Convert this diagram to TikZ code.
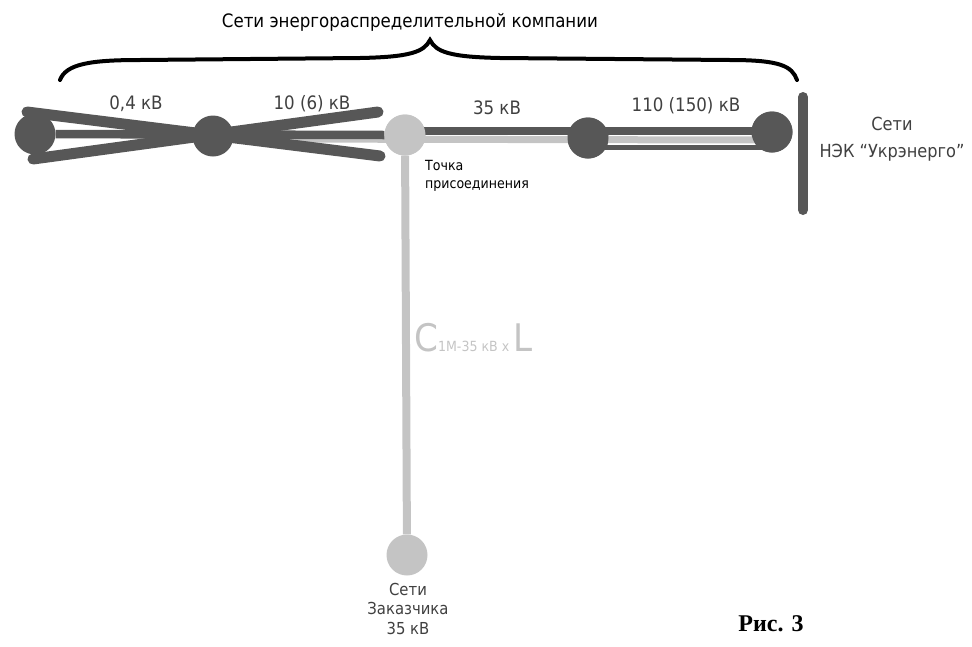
\documentclass[tikz,border=0pt]{standalone}
\usepackage{fontspec}
\setmainfont{DejaVu Sans Condensed}
\newfontfamily\serifbold{Liberation Serif}
\definecolor{darkg}{HTML}{575757}
\definecolor{lightg}{HTML}{C4C4C4}
\definecolor{txtg}{HTML}{404040}
\begin{document}
\begin{tikzpicture}[x=1pt,y=-1pt,
  dnode/.style={circle,fill=darkg,minimum size=41pt,inner sep=0pt},
  lnode/.style={circle,fill=lightg,minimum size=41pt,inner sep=0pt},
  vlabel/.style={text=txtg,font=\fontsize{18.5}{20}\selectfont,inner sep=0pt},
  darkline/.style={draw=darkg,line width=8.5pt},
  lightline/.style={draw=lightg,line width=7pt},
  crossline/.style={draw=darkg,line width=11pt,line cap=round}]
\useasboundingbox (0,0) rectangle (972,646);
% nodes
\node[dnode] (n1) at (35,134) {};
\node[dnode] (n2) at (213,136) {};
\node[lnode] (tp) at (405,135) {};
\node[dnode] (n4) at (588,138) {};
\node[dnode] (n5) at (772,132) {};
\node[lnode] (cust) at (407,555) {};
\coordinate (lstart) at (250,139);
\coordinate (lend) at (770,140);
\coordinate (d2s) at (590,147.5);
\coordinate (d2e) at (770,147.5);
\coordinate (ds) at (400,131);
\coordinate (de) at (770,131);
% connectors
\draw[lightline,line width=8pt] (tp) -- (cust);
\draw[lightline] (lstart) -- (lend);
\draw[darkg,line width=5pt] (d2s) -- (d2e);
\draw[darkline] (n1) -- (tp.west);
\draw[darkline] (ds) -- (de);
\node[lnode] at (tp) {};
\node[dnode] at (n4) {};
\node[dnode] at (n5) {};
% cross
\coordinate (c1) at (27,112);
\coordinate (c2) at (380,156);
\coordinate (c3) at (33,159);
\coordinate (c4) at (378,112);
\draw[crossline] (c1) -- (c2);
\draw[crossline] (c3) -- (c4);
% right bar
\coordinate (b1) at (803,97);
\coordinate (b2) at (803,210);
\draw[darkg,line width=10pt,line cap=round] (b1) -- (b2);
% brace
\draw[black,line width=4pt,line cap=round]
  (60,80) .. controls (66,64) and (90,60) .. (140,60) -- (360,58)
  .. controls (410,57) and (424,52) .. (430,40)
  .. controls (436,52) and (450,57) .. (500,58) -- (730,60)
  .. controls (780,60) and (792,66) .. (797,80);
\node[text=black,font=\fontsize{18.5}{20}\selectfont,inner sep=0pt] (title) at (410,22) {Сети энергораспределительной компании};
% labels
\node[vlabel] (l1) at (136,104) {0,4 кВ};
\node[vlabel] (l2) at (312,104) {10 (6) кВ};
\node[vlabel] (l3) at (497,108) {35 кВ};
\node[vlabel] (l4) at (686,106) {110 (150) кВ};
\node[text=black,font=\fontsize{14}{18}\selectfont,align=left,anchor=north west,inner sep=0pt] (tpl) at (425,160) {Точка\\присоединения};
\node[vlabel,align=center,font=\fontsize{18}{27}\selectfont] (ukr) at (892,139) {Сети\\НЭК “Укрэнерго”};
\node[vlabel,align=center,font=\fontsize{16.5}{19.5}\selectfont,anchor=north] (custl) at (408,583) {Сети\\Заказчика\\35 кВ};
\node[text=lightg,inner sep=0pt,anchor=west] (form) at (414,338) {\fontsize{38}{40}\selectfont C\fontsize{14}{16}\selectfont 1М-35 кВ х \fontsize{38}{40}\selectfont L};
\node[inner sep=0pt,font=\serifbold\bfseries\fontsize{24}{26}\selectfont] (fig) at (771,624) {Рис. 3};
\end{tikzpicture}
\end{document}
